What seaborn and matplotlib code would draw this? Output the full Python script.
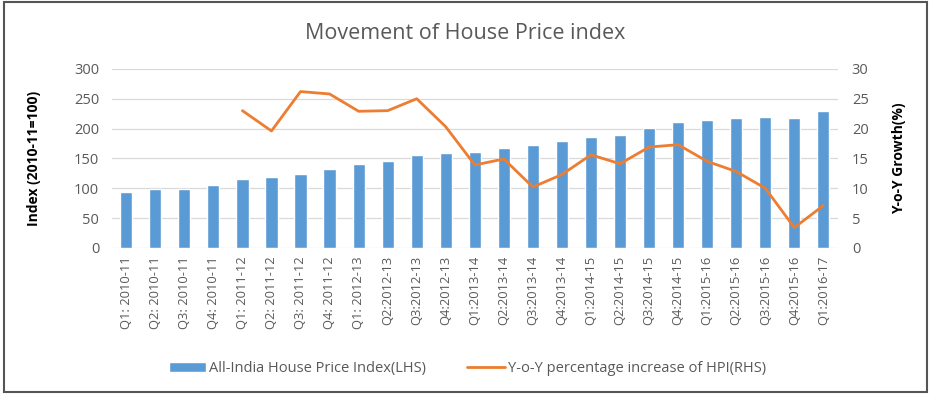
import matplotlib
matplotlib.use('Agg')
import matplotlib.pyplot as plt
import seaborn as sns
import numpy as np
import pandas as pd
from matplotlib.patches import Rectangle

# Datos
trimestres = ['Q1: 2010-11', 'Q2: 2010-11', 'Q3: 2010-11', 'Q4: 2010-11',
              'Q1: 2011-12', 'Q2: 2011-12', 'Q3: 2011-12', 'Q4: 2011-12',
              'Q1: 2012-13', 'Q2:2012-13', 'Q3:2012-13', 'Q4:2012-13',
              'Q1:2013-14', 'Q2:2013-14', 'Q3:2013-14', 'Q4:2013-14',
              'Q1:2014-15', 'Q2:2014-15', 'Q3:2014-15', 'Q4:2014-15',
              'Q1:2015-16', 'Q2:2015-16', 'Q3:2015-16', 'Q4:2015-16',
              'Q1:2016-17']
indice_hpi = [93, 99, 98, 105.5, 115.5, 118, 124, 133, 141, 146, 156, 158.5,
              160, 168, 172, 180, 186, 190, 201.5, 211.5, 215, 217, 220, 217, 230]
crecimiento_yoy = [np.nan, np.nan, np.nan, np.nan, 23.0, 19.6, 26.2, 25.8, 22.9,
                   23.0, 25.0, 20.3, 13.9, 14.9, 10.2, 12.3, 15.6, 14.1, 16.9,
                   17.3, 14.5, 12.8, 10.0, 3.4, 7.1]

df = pd.DataFrame({'trimestre': trimestres,
                   'hpi': indice_hpi,
                   'yoy': crecimiento_yoy})
df['pos'] = np.arange(len(df))

azul = '#5B9BD5'
naranja = '#ED7D31'
gris = '#595959'

sns.set_theme(style='white')
plt.rcParams['font.family'] = ['Open Sans', 'DejaVu Sans']

fig = plt.figure(figsize=(9.31, 3.96), dpi=100)
ax = fig.add_axes([0.120, 0.374, 0.780, 0.452])

sns.barplot(data=df, x='trimestre', y='hpi', color=azul, width=0.42,
            saturation=1, ax=ax, label='All-India House Price Index(LHS)')
ax.set_ylim(0, 300)
ax.set_yticks(range(0, 301, 50))
ax.set_xlim(-0.5, len(df) - 0.5)
ax.grid(True, axis='y', color='#d9d9d9', linewidth=0.9)
ax.set_axisbelow(True)
for s in ax.spines.values():
    s.set_visible(False)
ax.tick_params(axis='y', length=0, colors=gris, labelsize=10.5, pad=9)
ax.tick_params(axis='x', length=0, colors=gris, pad=6)
ax.set_xticks(df['pos'])
ax.set_xticklabels(trimestres, rotation=90, fontsize=9.3, color=gris)
ax.set_xlabel('')
ax.set_ylabel('Index (2010-11=100)', fontsize=10, fontweight='bold',
              color='black', labelpad=24)

# Eje secundario: crecimiento interanual
ax2 = ax.twinx()
sns.lineplot(data=df, x='pos', y='yoy', color=naranja, linewidth=2,
             ax=ax2, label='Y-o-Y percentage increase of HPI(RHS)')
ax2.set_ylim(0, 30)
ax2.set_yticks(range(0, 31, 5))
for s in ax2.spines.values():
    s.set_visible(False)
ax2.tick_params(axis='y', length=0, colors=gris, labelsize=10.5, pad=10)
ax2.set_ylabel('Y-o-Y Growth(%)', fontsize=10, fontweight='bold',
               color='black', labelpad=17)
ax2.set_xlabel('')
ax2.grid(False)

# Leyenda común abajo
h1, l1 = ax.get_legend_handles_labels()
h2, l2 = ax2.get_legend_handles_labels()
if ax.get_legend():
    ax.get_legend().remove()
if ax2.get_legend():
    ax2.get_legend().remove()
fig.legend(h1 + h2, l1 + l2, loc='center', bbox_to_anchor=(0.502, 0.07),
           ncol=2, frameon=False, fontsize=10.5, labelcolor=gris,
           handlelength=2.6, columnspacing=2.8, handletextpad=0.2)

fig.text(0.5, 0.915, 'Movement of House Price index', ha='center', va='center',
         fontsize=15.5, color=gris)

# Marco exterior
fig.patches.append(Rectangle((0.004, 0.01), 0.992, 0.984, transform=fig.transFigure,
                             fill=False, edgecolor='#555555', linewidth=1.5))

fig.savefig('out.png', dpi=100)
